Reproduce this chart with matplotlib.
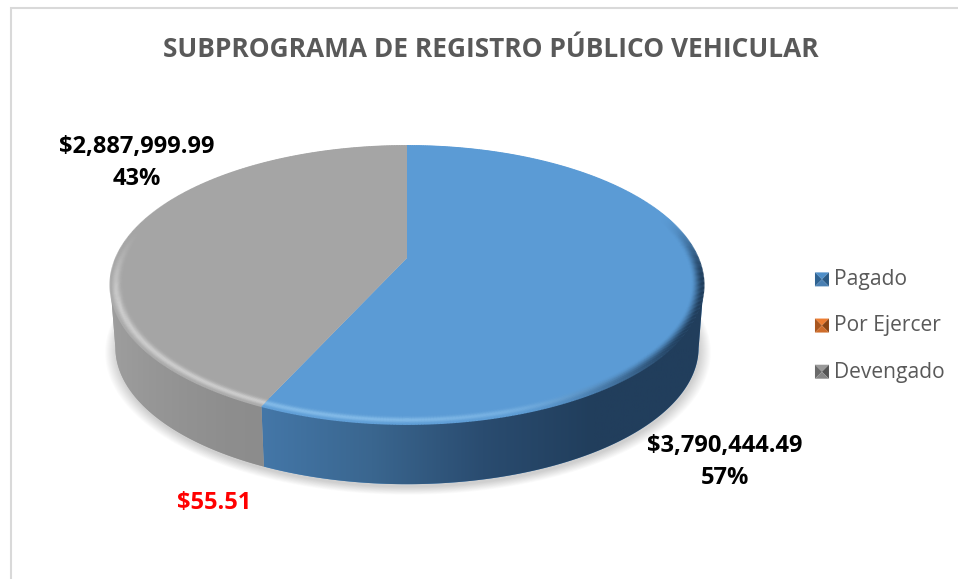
import numpy as np
import matplotlib
matplotlib.use("Agg")
import matplotlib.pyplot as plt
from matplotlib.patches import Polygon, Rectangle
from matplotlib.collections import LineCollection
from matplotlib.legend_handler import HandlerBase
from matplotlib.colors import LinearSegmentedColormap, to_rgb

plt.rcParams['font.family'] = ['Open Sans', 'DejaVu Sans']

title = "SUBPROGRAMA DE REGISTRO PÚBLICO VEHICULAR"
categories = ["Pagado", "Por Ejercer", "Devengado"]
values = [3790444.49, 55.51, 2887999.99]
top_colors = ["#5b9bd5", "#ed7d31", "#a5a5a5"]
key_faces = [["#4f8fc9", "#2f6392", "#2b5a85", "#4a80b3"],
             ["#ed7d31", "#a9561f", "#8a4413", "#cf6d2b"],
             ["#9a9a9a", "#6a6a6a", "#555555", "#868686"]]
side_stops = [["#4477a8", "#3a668f", "#2a4c70", "#213e5c", "#213e5c"],
              ["#c55a11", "#c55a11", "#c55a11", "#c55a11", "#c55a11"],
              ["#9e9e9e", "#979797", "#929292", "#8e8e8e", "#8c8c8c"]]
label_pos = [(725, 446, 478), None, (137, 147, 179)]

W, H = 958, 579
fig = plt.figure(figsize=(W / 100, H / 100), dpi=100)
ax = fig.add_axes([0, 0, 1, 1])
ax.axis("off")

ax.add_patch(Rectangle((11, 8), W + 20, H + 20, fc="white", ec="#d9d9d9", lw=1.5, zorder=0))

# perspective projection of the pie disc
CX, Y0, A, B, K, DEPTH, SHRINK = 407, 258, 291, 133.8, 0.194, 63, 0.983


def proj(theta, r=1.0):
    u, v = r * np.sin(theta), r * np.cos(theta)
    d = 1 + K * v
    return CX + A * u / d, Y0 - B * v / d


def lower(x, y):
    return CX + SHRINK * (x - CX), Y0 + DEPTH + SHRINK * (y - Y0)


def smooth(a, b, t):
    s = np.clip((t - a) / (b - a), 0, 1)
    return s * s * (3 - 2 * s)


# soft shadow
full = np.linspace(0, 2 * np.pi, 361)
for grow in np.linspace(11, 0, 12):
    x, y = lower(*proj(full, 1 + grow / 297))
    ax.add_patch(Polygon(np.c_[x + 1, y + 3], fc="#000000", ec="none", alpha=0.016, zorder=1))

fractions = np.array(values) / np.sum(values)
edges = np.r_[0, np.cumsum(fractions)] * 2 * np.pi

# sides: front arc between the silhouette extremes of the disc
for i, (a0, a1) in enumerate(zip(edges[:-1], edges[1:])):
    th = np.linspace(a0, a1, 500)
    front = np.cos(th) < -K
    if front.sum() < 2:
        continue
    x, y = proj(th[front])
    xb, yb = lower(x, y)
    poly = Polygon(np.r_[np.c_[x, y], np.c_[xb, yb][::-1]], fc=top_colors[i], ec="none", zorder=2)
    ax.add_patch(poly)
    cmap = LinearSegmentedColormap.from_list("s", side_stops[i])
    g = np.linspace(0, 1, 256)[None, :]
    im = ax.imshow(g, cmap=cmap, extent=(min(x.min(), xb.min()), max(x.max(), xb.max()), 500, 200),
                   aspect="auto", zorder=3, vmin=0, vmax=1)
    im.set_clip_path(poly)
ax.set_xlim(0, W)
ax.set_ylim(H, 0)

# top faces
for i, (a0, a1) in enumerate(zip(edges[:-1], edges[1:])):
    x, y = proj(np.linspace(a0, a1, 400))
    cx, cy = proj(np.array([0.0]), 0.0)
    ax.add_patch(Polygon(np.r_[[[cx[0], cy[0]]], np.c_[x, y]], fc=top_colors[i], ec="none", zorder=4))

# bevel on the rim of the top face
RIM = 0.042
radii = np.linspace(1 - RIM, 1.0, 14)
D = np.pi / 180
for i, (a0, a1) in enumerate(zip(edges[:-1], edges[1:])):
    th = np.linspace(a0, a1, 400)
    mid = 0.5 * (th[:-1] + th[1:])
    base = np.array(to_rgb(top_colors[i]))
    dk_col = np.array(to_rgb(side_stops[i][-1]))
    lit_col = np.array([0.70, 0.88, 1.0]) if i == 0 else np.array([1.0, 1.0, 1.0])
    light = smooth(125 * D, 190 * D, mid) * (1 - smooth(250 * D, 285 * D, mid))
    dark = smooth(70 * D, 100 * D, mid) * (1 - smooth(118 * D, 165 * D, mid))
    for r in radii:
        x, y = proj(th, r)
        pts = np.c_[x, y]
        segs = np.stack([pts[:-1], pts[1:]], axis=1)
        t = (r - (1 - RIM)) / RIM
        prof = np.exp(-((t - 0.6) / 0.3) ** 2)
        rgb = base + (lit_col - base) * (light * prof * 0.45)[:, None]
        rgb = rgb + (dk_col - rgb) * (dark * smooth(0.05, 0.95, t))[:, None]
        ax.add_collection(LineCollection(segs, colors=np.c_[rgb, np.ones(len(segs))],
                                         linewidths=1.3, zorder=5, capstyle="butt"))

# texts
ax.text(490.5, 49.5, title, ha="center", va="center", color="#595959", fontsize=18.9, fontweight="bold")
for i, p in enumerate(label_pos):
    if p is None:
        continue
    ax.text(p[0], p[1], f"${values[i]:,.2f}", ha="center", va="center", color="black",
            fontsize=17, fontweight="bold")
    ax.text(p[0], p[2], f"{fractions[i]*100:.0f}%", ha="center", va="center", color="black",
            fontsize=17, fontweight="bold")
ax.text(214, 503, f"${values[1]:,.2f}", ha="center", va="center", color="#ff0000", fontsize=17, fontweight="bold")


class Key(HandlerBase):
    def __init__(self, colors):
        super().__init__()
        self.colors = colors

    def create_artists(self, legend, orig, xd, yd, w, h, fontsize, trans):
        s = 14 / 100 * 72
        x0, y0 = w - s, (h - s) / 2 - 1
        c = (x0 + s / 2, y0 + s / 2)
        top = [(x0, y0 + s), (x0 + s, y0 + s), c]
        left = [(x0, y0), (x0, y0 + s), c]
        right = [(x0 + s, y0), (x0 + s, y0 + s), c]
        bottom = [(x0, y0), (x0 + s, y0), c]
        return [Polygon(p, fc=col, ec="none", transform=trans)
                for p, col in zip([top, left, right, bottom], self.colors)]


handles = [Rectangle((0, 0), 1, 1, fc=c) for c in top_colors]
hmap = {h: Key(key_faces[i]) for i, h in enumerate(handles)}
ax.legend(handles, categories, handler_map=hmap, loc="center left",
          bbox_to_anchor=(808 / W, 1 - 326 / H), frameon=False, fontsize=15.1,
          labelcolor="#595959", labelspacing=1.2, handlelength=1.0, handletextpad=0.24,
          borderpad=0, borderaxespad=0)

fig.savefig("out.png", dpi=100)
